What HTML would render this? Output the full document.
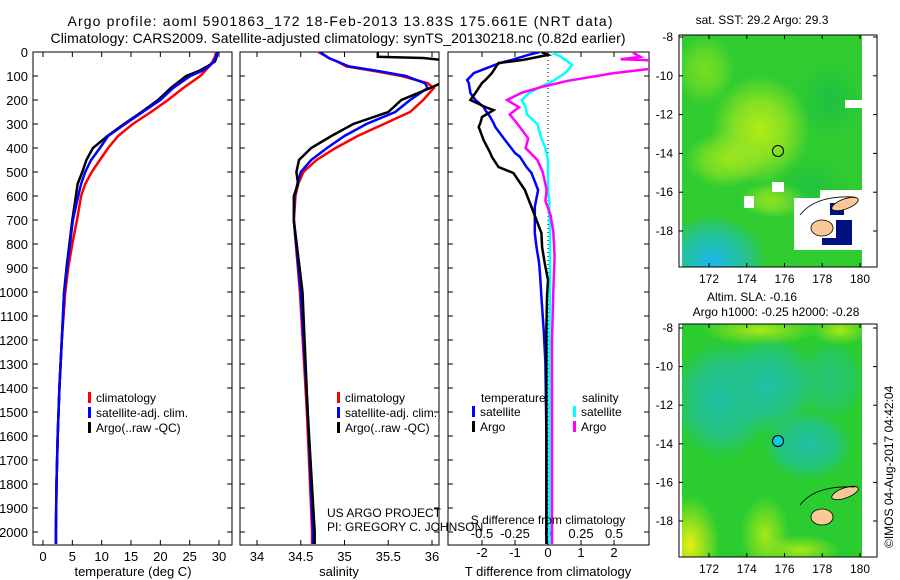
<!DOCTYPE html>
<html><head><meta charset="utf-8"><style>
body{margin:0;background:#fff;}
svg{display:block;font-family:"Liberation Sans",sans-serif;}
</style></head><body>
<svg id="c" width="900" height="580" viewBox="0 0 900 580">
<defs>
<clipPath id="cp1"><rect x="33" y="52" width="199" height="493"/></clipPath>
<clipPath id="cp2"><rect x="240" y="52" width="199" height="493"/></clipPath>
<clipPath id="cp3"><rect x="448" y="52" width="201" height="493"/></clipPath>
<clipPath id="cpm1"><rect x="682" y="35" width="180" height="232"/></clipPath>
<clipPath id="cpm2"><rect x="682" y="324" width="180" height="233"/></clipPath>
<radialGradient id="gy1"><stop offset="0" stop-color="#c0f010"/><stop offset="0.5" stop-color="#a8e820" stop-opacity="0.8"/><stop offset="1" stop-color="#a8e820" stop-opacity="0"/></radialGradient>
<radialGradient id="gc1"><stop offset="0" stop-color="#1ab8f0"/><stop offset="0.6" stop-color="#22c0b0" stop-opacity="0.8"/><stop offset="1" stop-color="#22c0b0" stop-opacity="0"/></radialGradient>
<radialGradient id="gd1"><stop offset="0" stop-color="#10b850"/><stop offset="1" stop-color="#10b850" stop-opacity="0"/></radialGradient>
<radialGradient id="gt2"><stop offset="0" stop-color="#20c0a8"/><stop offset="0.6" stop-color="#22c290" stop-opacity="0.8"/><stop offset="1" stop-color="#22c290" stop-opacity="0"/></radialGradient>
<radialGradient id="gy2"><stop offset="0" stop-color="#e8f010"/><stop offset="1" stop-color="#e8f010" stop-opacity="0"/></radialGradient>
<radialGradient id="gg2"><stop offset="0" stop-color="#a8e818"/><stop offset="1" stop-color="#a8e818" stop-opacity="0"/></radialGradient>
</defs>

<text x="340" y="26" font-size="14" text-anchor="middle" textLength="545">Argo profile: aoml 5901863_172 18-Feb-2013 13.83S 175.661E (NRT data)</text>
<text x="338" y="43" font-size="14" text-anchor="middle" textLength="575">Climatology: CARS2009. Satellite-adjusted climatology: synTS_20130218.nc (0.82d earlier)</text>

<g id="p1"></g>
<g id="p2"></g>
<g id="p3"></g>

<!-- top map -->
<g>
<text x="762" y="24" font-size="12" text-anchor="middle">sat. SST: 29.2 Argo: 29.3</text>
<g clip-path="url(#cpm1)">
<rect x="682" y="35" width="180" height="232" fill="#30cc30"/>
<ellipse cx="760" cy="130" rx="50" ry="55" fill="url(#gy1)" opacity="0.9"/>
<ellipse cx="725" cy="160" rx="40" ry="28" fill="url(#gy1)" opacity="0.7"/>
<ellipse cx="775" cy="200" rx="35" ry="18" fill="url(#gy1)" opacity="0.7"/>
<ellipse cx="705" cy="70" rx="30" ry="35" fill="url(#gy1)" opacity="0.5"/>
<ellipse cx="830" cy="100" rx="35" ry="40" fill="url(#gd1)" opacity="0.6"/>
<ellipse cx="810" cy="190" rx="45" ry="35" fill="url(#gd1)" opacity="0.5"/>
<ellipse cx="712" cy="262" rx="55" ry="48" fill="url(#gc1)"/>
<rect x="862" y="35" width="20" height="232" fill="#fff"/>
<rect x="794" y="198" width="68" height="52" fill="#fff"/>
<rect x="820" y="190" width="42" height="10" fill="#fff"/>
<rect x="845" y="100" width="17" height="8" fill="#fff"/>
<rect x="772" y="182" width="12" height="10" fill="#fff"/>
<rect x="744" y="196" width="10" height="12" fill="#fff"/>
<rect x="830" y="203" width="14" height="12" fill="#001080"/>
<rect x="836" y="220" width="16" height="25" fill="#001080"/>
<rect x="822" y="238" width="20" height="7" fill="#001080"/>
<ellipse cx="845" cy="204" rx="14" ry="5" transform="rotate(-20 845 204)" fill="#f9c896" stroke="#000" stroke-width="0.8"/>
<ellipse cx="822" cy="228" rx="11" ry="8" fill="#f9c896" stroke="#000" stroke-width="0.8"/>
<path d="M800 215 Q815 195 855 197" fill="none" stroke="#000" stroke-width="0.8"/>
</g>
<circle cx="778" cy="151" r="5.5" fill="none" stroke="#000" stroke-width="1"/>
<rect x="679" y="35" width="198" height="232" fill="none" stroke="#000" stroke-width="1"/>
<g id="m1ax"></g>
</g>

<!-- bottom map -->
<g>
<text x="752" y="301" font-size="12" text-anchor="middle">Altim. SLA: -0.16</text>
<text x="776" y="316" font-size="12" text-anchor="middle">Argo h1000: -0.25 h2000: -0.28</text>
<g clip-path="url(#cpm2)">
<rect x="682" y="324" width="180" height="233" fill="#2acc30"/>
<ellipse cx="722" cy="400" rx="50" ry="60" fill="url(#gt2)"/>
<ellipse cx="768" cy="385" rx="50" ry="50" fill="url(#gt2)"/>
<ellipse cx="808" cy="445" rx="45" ry="35" fill="url(#gt2)"/>
<ellipse cx="830" cy="380" rx="35" ry="40" fill="url(#gt2)" opacity="0.6"/>
<ellipse cx="760" cy="330" rx="60" ry="15" fill="url(#gg2)"/>
<ellipse cx="840" cy="330" rx="30" ry="15" fill="url(#gg2)"/>
<ellipse cx="690" cy="545" rx="30" ry="50" fill="url(#gy2)"/>
<ellipse cx="765" cy="535" rx="25" ry="40" fill="url(#gg2)"/>
<ellipse cx="800" cy="550" rx="40" ry="15" fill="url(#gg2)"/>
<rect x="862" y="324" width="20" height="233" fill="#fff"/>
<ellipse cx="845" cy="493" rx="14" ry="5" transform="rotate(-20 845 493)" fill="#f9c896" stroke="#000" stroke-width="0.8"/>
<ellipse cx="822" cy="517" rx="11" ry="8" fill="#f9c896" stroke="#000" stroke-width="0.8"/>
<path d="M800 505 Q815 485 855 487" fill="none" stroke="#000" stroke-width="0.8"/>
</g>
<circle cx="778" cy="441" r="5.5" fill="#10c8e0" stroke="#000" stroke-width="1"/>
<rect x="679" y="324" width="198" height="233" fill="none" stroke="#000" stroke-width="1"/>
<g id="m2ax"></g>
</g>
<text x="0" y="0" font-size="12" transform="translate(893 548) rotate(-90)">©IMOS 04-Aug-2017 04:42:04</text>
</svg>
<script>
// ---- data ----
const depths = [0,20,40,60,80,100,150,200,250,300,350,400,450,500,550,600,700,800,900,1000,1200,1400,1600,1800,2000,2050];
const tempArgo = [29.7,29.6,29.3,28.0,26.5,24.4,21.8,19.6,16.8,13.8,11.0,8.5,7.4,6.7,5.9,5.6,5.0,4.5,4.0,3.6,3.2,2.8,2.5,2.3,2.2,2.2];
const tempSat  = [29.7,29.5,29.1,28.3,27.0,25.1,22.2,20.0,17.0,14.0,11.1,9.7,8.2,7.2,6.5,6.0,5.1,4.6,4.1,3.6,3.2,2.8,2.5,2.3,2.2,2.2];
const tempClim = [29.5,29.3,28.9,28.3,27.6,26.8,23.9,21.3,18.4,15.3,12.8,11.1,9.7,8.3,7.2,6.5,5.8,5.0,4.3,3.8,3.2,2.8,2.5,2.3,2.2,2.2];
const salDepths = [0,20,25,40,60,80,100,130,150,200,250,300,350,400,450,500,550,600,700,1000,1500,2000,2050];
const salArgo = [35.38,35.38,35.9,36.3,36.4,36.35,36.3,36.1,35.98,35.65,35.5,35.1,34.85,34.62,34.48,34.45,34.47,34.42,34.42,34.52,34.58,34.66,34.66];
const salSat  = [34.72,34.8,34.82,34.92,35.05,35.4,35.7,35.92,35.95,35.75,35.58,35.25,35.0,34.8,34.62,34.5,34.46,34.43,34.42,34.5,34.58,34.64,34.64];
const salClim = [34.7,34.8,34.82,34.92,35.02,35.35,35.65,35.95,36.02,35.9,35.75,35.45,35.15,34.9,34.68,34.53,34.47,34.44,34.42,34.49,34.57,34.63,34.63];
const dDepths = [0,12,33,46,88,117,129,171,200,229,242,271,296,312,367,421,437,479,504,575,646,754,813,879,950,1021,1158,1296,1600,2050];
const tdiffSat  = [-0.25,-0.6,-1.1,-1.45,-2.25,-2.45,-2.4,-2.35,-2.2,-1.95,-1.9,-1.75,-1.65,-1.6,-1.3,-1.0,-0.85,-0.65,-0.5,-0.3,-0.4,-0.4,-0.35,-0.27,-0.23,-0.2,-0.13,-0.08,-0.05,-0.05];
const tdiffArgo = [-0.2,0.0,-0.75,-1.5,-1.7,-1.9,-2.0,-2.2,-2.35,-1.9,-1.65,-2.0,-2.05,-2.1,-1.95,-1.75,-1.7,-1.5,-1.05,-0.7,-0.5,-0.2,-0.18,-0.1,0.0,-0.03,-0.05,-0.05,-0.05,-0.05];
const sdDepths = [0,5,20,30,35,54,70,88,120,146,170,200,230,260,300,360,400,450,500,575,620,680,750,850,1000,1200,2050];
const sdiffSat  = [0.04,0.04,0.1,0.12,0.14,0.18,0.16,0.13,0.04,-0.06,-0.14,-0.2,-0.17,-0.16,-0.08,-0.05,-0.02,0.0,0.0,0.0,0.01,0.01,0.015,0.015,0.015,0.01,0.01];
const sdiffArgo = [0.65,0.65,0.7,0.55,0.8,0.8,0.78,0.5,0.15,-0.05,-0.2,-0.31,-0.22,-0.29,-0.23,-0.15,-0.17,-0.08,-0.04,-0.01,-0.02,0.02,0.04,0.05,0.04,0.03,0.03];
const depthTicks = [0,100,200,300,400,500,600,700,800,900,1000,1100,1200,1300,1400,1500,1600,1700,1800,1900,2000];
const tempTicks = [0,5,10,15,20,25,30];
const salTicks = [34,34.5,35,35.5,36];
const salTickLabels = ["34","34.5","35","35.5","36"];
const tdTicks = [-2,-1,0,1,2];
const sdTicks = [-0.5,-0.25,0,0.25,0.5];
const sdTickLabels = ["-0.5","-0.25","0","0.25","0.5"];
const lonTicks = [172,174,176,178,180];
const latTicks = [-8,-10,-12,-14,-16,-18];

// ---- axes ----
const yD = d => 52 + d*0.24;
const xT = t => 43 + t*5.867;
const xS = s => 257 + (s-34)*87.5;
const xTd = v => 548 + v*33;
const xSd = v => 548 + v*132;
const xLon = l => 709 + (l-172)*18.875;
const yLat1 = l => 37 + (-8-l)*19.4;
const yLat2 = l => 328 + (-8-l)*19.3;

const NS = "http://www.w3.org/2000/svg";
function mk(parent, tag, attrs, txt){
  const e = document.createElementNS(NS, tag);
  for (const k in attrs) e.setAttribute(k, attrs[k]);
  if (txt !== undefined) e.textContent = txt;
  parent.appendChild(e);
  return e;
}
function line(p, vals, ds, fx, color, clip, name){
  const pts = vals.map((v,i)=>fx(v).toFixed(1)+","+yD(ds[i]).toFixed(1)).join(" ");
  const e = mk(p, "polyline", {points:pts, fill:"none", stroke:color, "stroke-width":2.5, "clip-path":"url(#"+clip+")"});
  
  
}
function frame(p, x0, x1){
  mk(p, "rect", {x:x0, y:52, width:x1-x0, height:493, fill:"none", stroke:"#000", "stroke-width":1});
  depthTicks.forEach(d=>{
    mk(p,"line",{x1:x0,x2:x0+5,y1:yD(d),y2:yD(d),stroke:"#000"});
    mk(p,"line",{x1:x1-5,x2:x1,y1:yD(d),y2:yD(d),stroke:"#000"});
  });
}
function xticks(p, ticks, labels, fx, ly){
  ticks.forEach((t,i)=>{
    const x = fx(t);
    mk(p,"line",{x1:x,x2:x,y1:52,y2:57,stroke:"#000"});
    mk(p,"line",{x1:x,x2:x,y1:540,y2:545,stroke:"#000"});
    const e = mk(p,"text",{x:x,y:ly,"font-size":13,"text-anchor":"middle"}, labels[i]);
    
    
  });
}
function legend(p, x, y, color, label){
  mk(p,"rect",{x:x,y:y-10,width:3,height:11,fill:color});
  const e = mk(p,"text",{x:x+8,y:y,"font-size":12}, label);
  
  
}

// panel 1
const p1 = document.getElementById("p1");
frame(p1, 33, 232);
depthTicks.forEach(d=>{
  const e = mk(p1,"text",{x:28,y:yD(d)+5,"font-size":13,"text-anchor":"end"}, String(d));
  
  
});
xticks(p1, tempTicks, tempTicks.map(String), xT, 561);
mk(p1,"text",{x:133,y:576,"font-size":13,"text-anchor":"middle"},"temperature (deg C)");
line(p1, tempClim, depths, xT, "#f00", "cp1", "temp-climatology-line");
line(p1, tempArgo, depths, xT, "#000", "cp1", "temp-argo-line");
line(p1, tempSat, depths, xT, "#00f", "cp1", "temp-satellite-line");
legend(p1, 88, 402, "#f00", "climatology");
legend(p1, 88, 417, "#00f", "satellite-adj. clim.");
legend(p1, 88, 432, "#000", "Argo(..raw -QC)");

// panel 2
const p2 = document.getElementById("p2");
frame(p2, 240, 439);
xticks(p2, salTicks, salTickLabels, xS, 561);
mk(p2,"text",{x:339,y:576,"font-size":13,"text-anchor":"middle"},"salinity");
line(p2, salClim, salDepths, xS, "#f00", "cp2", "sal-climatology-line");
line(p2, salSat, salDepths, xS, "#00f", "cp2", "sal-satellite-line");
line(p2, salArgo, salDepths, xS, "#000", "cp2", "sal-argo-line");
legend(p2, 337, 402, "#f00", "climatology");
legend(p2, 337, 417, "#00f", "satellite-adj. clim.");
legend(p2, 337, 432, "#000", "Argo(..raw -QC)");
mk(p2,"text",{x:327,y:517,"font-size":12},"US ARGO PROJECT");
mk(p2,"text",{x:327,y:531,"font-size":12},"PI: GREGORY C. JOHNSON");

// panel 3
const p3 = document.getElementById("p3");
frame(p3, 448, 649);
mk(p3,"line",{x1:548,x2:548,y1:52,y2:545,stroke:"#000","stroke-dasharray":"1,3"});
xticks(p3, tdTicks, tdTicks.map(String), xTd, 557);
sdTicks.forEach((t,i)=>{
  const e = mk(p3,"text",{x:xSd(t),y:538,"font-size":13,"text-anchor":"middle"}, sdTickLabels[i]);
  
  
});
mk(p3,"text",{x:548,y:576,"font-size":13,"text-anchor":"middle"},"T difference from climatology");
line(p3, sdiffSat, sdDepths, xSd, "#0ff", "cp3", "sal-diff-satellite-line");
line(p3, sdiffArgo, sdDepths, xSd, "#f0f", "cp3", "sal-diff-argo-line");
line(p3, tdiffSat, dDepths, xTd, "#00f", "cp3", "temp-diff-satellite-line");
line(p3, tdiffArgo, dDepths, xTd, "#000", "cp3", "temp-diff-argo-line");
mk(p3,"text",{x:548,y:524,"font-size":12,"text-anchor":"middle"},"S difference from climatology");
mk(p3,"text",{x:481,y:402,"font-size":12},"temperature");
mk(p3,"text",{x:582,y:402,"font-size":12},"salinity");
legend(p3, 472, 416, "#00f", "satellite");
legend(p3, 472, 431, "#000", "Argo");
legend(p3, 573, 416, "#0ff", "satellite");
legend(p3, 573, 431, "#f0f", "Argo");

// map axes
function mapAxes(id, y0, y1, yLat){
  const g = document.getElementById(id);
  lonTicks.forEach(l=>{
    const x = xLon(l);
    mk(g,"line",{x1:x,x2:x,y1:y0,y2:y0+4,stroke:"#000"});
    mk(g,"line",{x1:x,x2:x,y1:y1-4,y2:y1,stroke:"#000"});
    const e = mk(g,"text",{x:x,y:y1+16,"font-size":12,"text-anchor":"middle"}, String(l));
    
    
  });
  latTicks.forEach(l=>{
    const y = yLat(l);
    mk(g,"line",{x1:679,x2:683,y1:y,y2:y,stroke:"#000"});
    mk(g,"line",{x1:873,x2:877,y1:y,y2:y,stroke:"#000"});
    const e = mk(g,"text",{x:673,y:y+4,"font-size":12,"text-anchor":"end"}, String(l));
    
    
  });
}
mapAxes("m1ax", 35, 267, yLat1);
mapAxes("m2ax", 324, 557, yLat2);
</script>
</body></html>
